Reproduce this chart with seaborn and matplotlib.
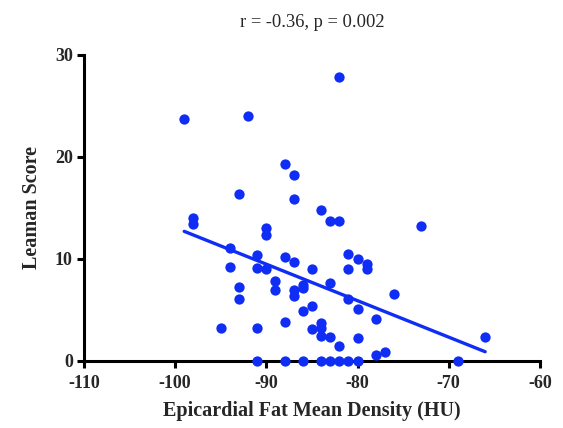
import numpy as np
import pandas as pd
import matplotlib
matplotlib.use("Agg")
import matplotlib.pyplot as plt
import seaborn as sns

# Epicardial fat density (HU) and Leaman score per patient
density = [
    -82, -99, -92, -88, -87, -93, -87, -84, -98, -98,
    -83, -82, -73, -90, -90, -94, -94, -91, -91, -90,
    -88, -87, -85, -81, -81, -80, -79, -79, -89, -89,
    -93, -93, -87, -87, -86, -86, -83, -81, -80, -78,
    -76, -86, -85, -95, -91, -88, -85, -84, -84, -84,
    -83, -82, -80, -78, -77, -66,
    -91, -88, -86, -84, -83, -82, -81, -80, -69,
]
leaman = [
    27.8, 23.7, 24.0, 19.3, 18.2, 16.4, 15.9, 14.8, 14.0, 13.4,
    13.7, 13.7, 13.2, 13.0, 12.3, 11.1, 9.2, 10.4, 9.1, 9.0,
    10.2, 9.7, 9.0, 10.5, 9.0, 10.0, 9.5, 9.0, 7.8, 6.9,
    7.2, 6.1, 6.9, 6.4, 7.4, 7.1, 7.6, 6.1, 5.1, 4.1,
    6.5, 4.9, 5.4, 3.2, 3.2, 3.8, 3.1, 3.7, 3.2, 2.4,
    2.3, 1.5, 2.2, 0.6, 0.9, 2.3,
    0, 0, 0, 0, 0, 0, 0, 0, 0,
]
x_ticks = [-110, -100, -90, -80, -70, -60]
y_ticks = [0, 10, 20, 30]
title_text = "r = -0.36, p = 0.002"

df = pd.DataFrame({"density": density, "leaman": leaman})

sns.set_style("ticks")
plt.rcParams["font.family"] = ["Liberation Serif", "DejaVu Serif"]

blue = "#0F2DF5"
fig = plt.figure(figsize=(5.63, 4.28), dpi=100)
ax = fig.add_axes([0.149, 0.157, 0.81, 0.715])

sns.regplot(
    data=df, x="density", y="leaman", ax=ax, ci=None, truncate=True,
    scatter_kws=dict(s=55, color=blue, linewidths=0, alpha=1, clip_on=False, zorder=4),
    line_kws=dict(color=blue, lw=2.4, zorder=3),
)

ax.set_xlim(-110, -60)
ax.set_ylim(0, 30)
ax.set_xticks(x_ticks)
ax.set_yticks(y_ticks)
ax.set_xticklabels([str(t) for t in x_ticks], fontsize=13, fontweight="bold")
ax.set_yticklabels([str(t) for t in y_ticks], fontsize=13, fontweight="bold")
ax.tick_params(axis="x", direction="out", length=5, width=2.2, color="black", pad=5)
ax.tick_params(axis="y", direction="out", length=5, width=2.2, color="black", pad=3)

for side in ("top", "right"):
    ax.spines[side].set_visible(False)
for side in ("left", "bottom"):
    ax.spines[side].set_linewidth(2.2)
    ax.spines[side].set_color("black")

ax.set_xlabel("Epicardial Fat Mean Density (HU)", fontsize=14.5, fontweight="bold", labelpad=7)
ax.set_ylabel("Leaman Score", fontsize=14.5, fontweight="bold", labelpad=9)
ax.set_title(title_text, fontsize=13.3, pad=20)

fig.savefig("out.png", dpi=100)
